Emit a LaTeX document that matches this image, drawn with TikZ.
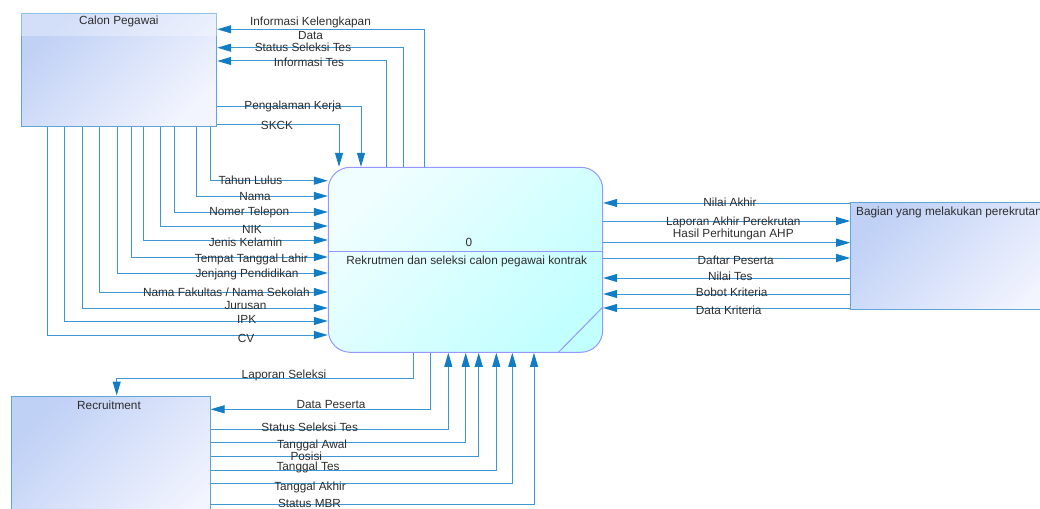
\documentclass[tikz,border=0pt]{standalone}
\usepackage{fontspec}
\setmainfont{Liberation Sans}
\usetikzlibrary{arrows.meta}

\definecolor{flowline}{RGB}{60,152,212}
\definecolor{flowtip}{RGB}{18,124,196}
\definecolor{entline}{RGB}{95,165,220}
\definecolor{entdark}{RGB}{192,209,246}
\definecolor{entlight}{RGB}{242,244,254}
\definecolor{procline}{RGB}{150,150,255}
\definecolor{proclight}{RGB}{240,254,255}
\definecolor{procdark}{RGB}{194,255,255}
\definecolor{txt}{RGB}{45,45,45}

\tikzset{
	flow/.style={draw=flowline, line width=1pt, -{Triangle[length=14pt, width=8pt, color=flowtip]}},
	entity/.style={draw=entline, line width=1pt, top color=entdark, bottom color=entlight, shading angle=45, inner sep=0pt},
	process/.style={draw=procline, line width=1pt, rounded corners=22pt, top color=proclight, bottom color=procdark, shading angle=45, inner sep=0pt},
	lbl/.style={text=txt, inner sep=0pt, font=\fontsize{11.8}{14}\selectfont}
}

\begin{document}
\begin{tikzpicture}[x=1pt, y=-1pt]
		\useasboundingbox (0,0) rectangle (1040,508);
		\node[entity, minimum width=195.7pt, minimum height=112.7pt] (calon) at (118.85,69.65) {};
		\fill[white, opacity=0.3] (calon.north west) rectangle ([yshift=-23pt]calon.north east);
		\node[lbl] (calonname) at ([yshift=-9pt]calon.north) {Calon Pegawai};
		\node[process, minimum width=274.4pt, minimum height=185pt] (proc) at (465.5,259.8) {};
		\draw[procline, line width=1pt] (proc.west |- 0,251.7) -- (proc.east |- 0,251.7);
		\draw[procline, line width=1pt] (proc.south -| 558,0) -- (proc.east |- 0,306.7);
		\node[lbl] (procid) at (469,242) {0};
		\node[lbl] (procname) at (466.7,261.7) {Rekrutmen dan seleksi calon pegawai kontrak};
		\node[entity, minimum width=215pt, minimum height=107pt] (bagian) at (958.2,255.8) {};
		\node[lbl, anchor=west] (bagianname) at (856,212) {Bagian yang melakukan perekrutan};
		\node[entity, minimum width=198.3pt, minimum height=144pt] (recruit) at (110.85,468) {};
		\node[lbl] (recruitname) at (109,405) {Recruitment};
		\foreach \x/\y [count=\i] in {424/29.3, 403.7/47.7, 386.7/61}
			\draw[flow] (proc.north -| \x,0) |- (calon.east |- 0,\y);
		\foreach \x/\y [count=\i] in {361/106.7, 339/124}
			\draw[flow] (calon.east |- 0,\y) -| (proc.north -| \x,0);
		\node[lbl, align=center] (out1) at (310.5,28) {Informasi Kelengkapan\\Data};
		\node[lbl] (out2) at (303,47.7) {Status Seleksi Tes};
		\node[lbl] (out3) at (309,62.7) {Informasi Tes};
		\node[lbl] (in1) at (293,106) {Pengalaman Kerja};
		\node[lbl] (in2) at (277,125) {SKCK};
		\foreach \x/\y/\name/\lx/\ly [count=\i] in {210/180.7/Tahun Lulus/250.5/180, 196/196/Nama/255/196, 174/212/Nomer Telepon/249.3/212.3, 160/226/NIK/252/229, 143/240/Jenis Kelamin/245.5/242, 131/257/Tempat Tanggal Lahir/251.3/259.3, 117/273/Jenjang Pendidikan/247/274.7, 99/292/{Nama Fakultas / Nama Sekolah}/226.3/292.3, 82/308/Jurusan/245.5/305.7, 64/321/IPK/246.7/319.3, 47/335/CV/246/338.3}
		{
			\draw[flow] (calon.south -| \x,0) |- (proc.west |- 0,\y);
			\node[lbl] (data\i) at (\lx,\ly) {\name};
		}
		\foreach \y/\name/\lx/\ly [count=\i] in {203/Nilai Akhir/730/202.7, 278/Nilai Tes/730.3/276.7, 294/Bobot Kriteria/731.7/292.7, 308/Data Kriteria/728.7/310.7}
		{
			\draw[flow] (bagian.west |- 0,\y) -- (proc.east |- 0,\y);
			\node[lbl] (nilai\i) at (\lx,\ly) {\name};
		}
		\foreach \y/\name/\lx/\ly [count=\i] in {221/Laporan Akhir Perekrutan/733.3/222.7, 242.7/Hasil Perhitungan AHP/733.3/234.7, 258/Daftar Peserta/735.7/260}
		{
			\draw[flow] (proc.east |- 0,\y) -- (bagian.west |- 0,\y);
			\node[lbl] (hasil\i) at (\lx,\ly) {\name};
		}
		\draw[flow] (proc.south -| 413,0) |- (116.7,378.3) -- (recruit.north -| 116.7,0);
		\draw[flow] (proc.south -| 430.3,0) |- (recruit.east |- 0,409.3);
		\node[lbl] (lapor) at (284,375) {Laporan Seleksi};
		\node[lbl] (peserta) at (331,404) {Data Peserta};
		\foreach \x/\y/\name/\lx/\ly [count=\i] in {448.3/429/Status Seleksi Tes/309.7/427, 465.7/442/Tanggal Awal/312/445, 478.7/456/Posisi/306.3/456.5, 496.3/470/Tanggal Tes/308/467.5, 512.3/483/Tanggal Akhir/310/487, 534/504/Status MBR/309.5/503}
		{
			\draw[flow] (recruit.east |- 0,\y) -| (proc.south -| \x,0);
			\node[lbl] (tes\i) at (\lx,\ly) {\name};
		}
	\end{tikzpicture}
\end{document}
